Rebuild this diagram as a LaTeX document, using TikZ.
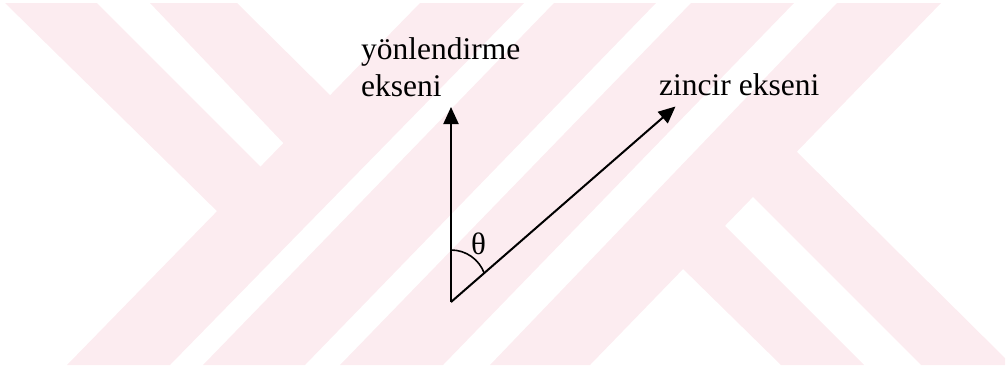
\documentclass[tikz,border=0pt]{standalone}
\usepackage{fontspec}
\setmainfont{Liberation Serif}
\usetikzlibrary{arrows.meta,calc}
\definecolor{wm}{RGB}{252,236,240}
\begin{document}
\begin{tikzpicture}[x=1pt,y=-1pt,
  axis/.style={line width=2pt, -{Triangle[length=17pt,width=15pt]}},
  lbl/.style={inner sep=0pt, font=\fontsize{31.5}{37.4}\selectfont, text=black},
  wmfill/.style={fill=wm, draw=none}]
\useasboundingbox (0,0) rectangle (1008,370);
% watermark
\begin{scope}
  \clip (0,3) rectangle (1005,365);
  % upper-left strips
  \fill[wmfill] (5,3) -- (97,3) -- (268,174) -- (224,218) -- cycle;
  \fill[wmfill] (150,3) -- (237,3) -- (336,101) -- (289,149) -- cycle;
  % rising strips
  \fill[wmfill] (67,365) -- (170,365) -- (524,3) -- (420,3) -- cycle;
  \fill[wmfill] (203,365) -- (305,365) -- (656,3) -- (554,3) -- cycle;
  \fill[wmfill] (340,365) -- (443,365) -- (794,3) -- (691,3) -- cycle;
  \fill[wmfill] (490,365) -- (590,365) -- (941,3) -- (837,3) -- cycle;
  % lower-right strips
  \fill[wmfill] (678,264) -- (719,220) -- (864,365) -- (781,365) -- cycle;
  \fill[wmfill] (791,146) -- (748,192) -- (921,365) -- (1012,365) -- cycle;
\end{scope}
% axes
\coordinate (O) at (451,302);
\coordinate (vtip) at (451,107);
\coordinate (ztip) at (675.5,106.5);
\draw[axis] (O) -- (vtip);
\draw[axis] (O) -- (ztip);
% angle arc
\draw[line width=1.6pt] ($(O)+(0,-52)$) arc[start angle=-90, end angle=-20, radius=35.4];
% labels
\node[lbl, anchor=base west, align=left] (yon) at (361,96.7) {yönlendirme\\ekseni};
\node[lbl, anchor=base west] (zin) at (659,95.5) {zincir ekseni};
\node[inner sep=0pt, font=\fontsize{31}{31}\selectfont] (th) at (478.5,243.5) {θ};
\end{tikzpicture}
\end{document}
